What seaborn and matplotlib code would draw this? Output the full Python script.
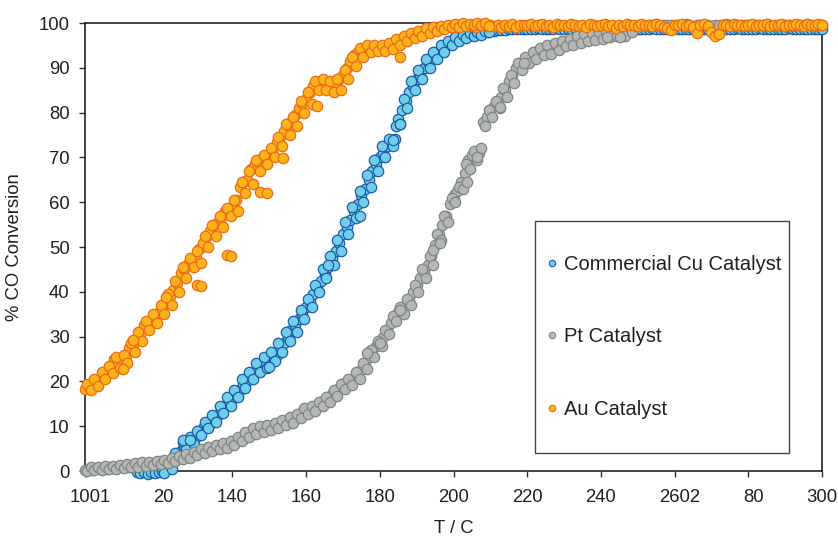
import numpy as np
import pandas as pd
import matplotlib
matplotlib.use("Agg")
import matplotlib.pyplot as plt
from matplotlib.lines import Line2D
from matplotlib.patches import Rectangle
import matplotlib.transforms as mtransforms
import seaborn as sns

# ---------------- data ----------------
series_names = ["Commercial Cu Catalyst", "Pt Catalyst", "Au Catalyst"]

# Commercial Cu catalyst, main trace, T = 114 ... 300 C (1 C steps)
cu_t_start = 114
cu_conv = [
    -0.3, -0.5, -0.2, -0.6, -0.3, -0.5,
    -0.2, 0.0, 0.5, 1.0, 2.0, 3.5, 4.5, 5.5, 6.5, 6.8,
    7.5, 8.5, 9.5, 10.0, 10.5, 11.5, 12.5, 13.5, 14.5, 15.5,
    16.0, 17.0, 18.0, 19.5, 20.0, 21.0, 22.0, 23.0, 23.5, 24.0,
    25.0, 25.5, 26.0, 27.5, 28.5, 30.0, 31.5, 32.5, 34.0, 35.0,
    36.5, 38.0, 39.5, 41.0, 42.5, 44.0, 45.5, 47.5, 49.0, 51.0,
    53.0, 54.5, 56.0, 58.0, 59.5, 61.5, 63.0, 65.0, 67.0, 68.5,
    70.0, 71.0, 72.5, 73.5, 74.0, 78.5, 80.5, 82.5, 84.5, 86.0,
    87.5, 88.5, 90.0, 91.2, 92.2, 93.0, 93.8, 94.5, 95.0, 95.5,
    96.0, 96.3, 96.6, 96.9, 97.2, 97.4, 97.6, 97.8, 98.0, 98.1,
    98.2, 98.3, 98.4, 98.5, 98.5, 98.6, 98.6, 98.7, 98.7, 98.7,
    98.7, 98.6, 98.7, 98.8, 98.7, 98.6, 98.7, 98.7, 98.8, 98.7,
    98.6, 98.7, 98.7, 98.8, 98.7, 98.6, 98.7, 98.7, 98.8, 98.7,
    98.7, 98.6, 98.7, 98.8, 98.7, 98.7, 98.6, 98.7, 98.7, 98.8,
    98.7, 98.6, 98.7, 98.7, 98.8, 98.7, 98.7, 98.6, 98.7, 98.7,
    98.8, 98.7, 98.6, 98.7, 98.7, 98.7, 98.8, 98.7, 98.6, 98.7,
    98.7, 98.8, 98.7, 98.7, 98.6, 98.7, 98.7, 98.8, 98.7, 98.7,
    98.6, 98.7, 98.7, 98.8, 98.7, 98.7, 98.6, 98.7, 98.7, 98.7,
    98.7, 98.8, 98.7, 98.7, 98.6, 98.7, 98.7, 98.7, 98.7, 98.7,
    98.7,
]
# Cu, other edge of the band, T = 120.5 ... 209.5 C
cu_b_t_start = 120.5
cu_conv_b = [
    0.8, -0.5, 2.0, 0.5, 4.0, 3.0, 6.5, 5.0, 7.5, 6.0,
    9.0, 8.0, 11.0, 9.5, 12.5, 11.0, 14.5, 13.0, 16.5, 14.5,
    18.0, 16.5, 20.5, 18.5, 22.0, 20.5, 24.0, 22.0, 25.5, 23.0,
    26.5, 24.5, 28.5, 26.5, 31.0, 29.0, 33.5, 31.0, 36.0, 34.0,
    38.5, 36.5, 41.5, 40.0, 45.0, 43.0, 48.0, 46.0, 51.5, 49.0,
    55.5, 53.0, 59.0, 56.5, 62.5, 60.0, 66.0, 63.5, 69.5, 67.0,
    72.5, 70.0, 74.0, 72.5, 77.0, 77.5, 83.0, 81.0, 87.0, 85.0,
    89.5, 87.5, 92.0, 90.0, 93.5, 92.0, 95.0, 93.5, 96.0, 95.0,
    96.8, 96.0, 97.3, 96.6, 97.7, 97.0, 98.0, 97.4, 98.3, 97.9,
]
cu_extra_t = [126.7, 128.5, 150.0, 166.0, 174.5, 183.7, 185.5]
cu_extra_c = [6.9, 6.9, 23.3, 46.0, 57.0, 73.9, 77.5]

# Pt catalyst, main trace, T = 100 ... 300 C
pt_t_start = 100
pt_conv = [
    0.2, 0.5, 0.3, 0.6, 0.4, 0.7, 0.5, 0.8, 0.6, 0.9,
    0.8, 1.1, 1.0, 1.3, 1.2, 1.4, 1.3, 1.6, 1.5, 1.8,
    1.7, 2.0, 2.2, 2.1, 2.5, 2.8, 3.0, 3.2, 3.5, 3.8,
    4.0, 4.2, 4.5, 4.6, 4.9, 5.2, 5.4, 5.7, 5.6, 6.0,
    6.4, 6.8, 7.3, 7.8, 8.5, 8.8, 9.0, 9.2, 9.0, 9.5,
    9.8, 10.0, 10.3, 10.5, 10.8, 11.2, 11.5, 12.0, 12.5, 13.2,
    13.5, 13.8, 14.2, 14.8, 15.2, 15.8, 16.5, 17.2, 17.8, 18.5,
    19.0, 19.5, 20.0, 20.8, 21.5, 22.5, 24.0, 25.5, 27.0, 28.0,
    29.0, 30.0, 31.5, 33.0, 34.5, 35.5, 36.0, 37.0, 38.5, 40.0,
    41.5, 43.0, 44.5, 46.0, 48.0, 50.5, 53.0, 55.0, 57.0, 59.5,
    61.5, 62.5, 64.5, 66.5, 69.5, 70.5, 71.0, 71.0, 78.0, 79.0,
    80.5, 81.5, 82.0, 83.5, 85.0, 87.0, 88.5, 90.0, 91.0, 91.5,
    92.0, 92.5, 93.0, 93.3, 93.6, 93.8, 94.0, 94.5, 95.0, 95.3,
    95.5, 95.8, 96.0, 96.3, 96.5, 96.7, 96.8, 97.0, 97.0, 97.2,
    97.3, 97.5, 97.8, 97.5, 97.8, 98.0, 98.2, 98.5, 98.8, 99.0,
    99.3, 99.5, 99.4, 99.6, 99.5, 99.7, 99.4, 99.5, 99.6, 99.5,
    99.4, 99.6, 99.5, 99.7, 99.5, 99.4, 99.6, 99.5, 99.5, 99.6,
    99.4, 99.5, 99.6, 99.5, 99.7, 99.5, 99.4, 99.6, 99.5, 99.5,
    99.6, 99.4, 99.5, 99.6, 99.5, 99.7, 99.5, 99.4, 99.6, 99.5,
    99.5, 99.6, 99.4, 99.5, 99.6, 99.5, 99.7, 99.5, 99.4, 99.6,
    99.5,
]
# Pt, other edge of the band, T = 100.5 ... 249.5 C
pt_b_t_start = 100.5
pt_conv_b = [
    0.0, 1.0, 0.2, 0.9, 0.3, 1.1, 0.4, 1.2, 0.5, 1.3,
    0.6, 1.5, 0.8, 1.7, 1.0, 1.9, 1.1, 2.0, 1.3, 2.3,
    1.5, 2.5, 1.8, 2.9, 2.2, 3.4, 2.6, 3.9, 3.0, 4.3,
    3.6, 4.8, 4.0, 5.3, 4.4, 5.9, 4.9, 6.3, 5.2, 6.8,
    5.9, 7.6, 6.8, 8.8, 7.6, 9.6, 8.2, 10.0, 8.6, 10.3,
    9.2, 10.8, 9.7, 11.3, 10.2, 12.0, 10.8, 12.8, 11.8, 14.0,
    12.8, 14.6, 13.5, 15.5, 14.4, 16.6, 15.5, 18.0, 16.8, 19.5,
    18.3, 20.5, 19.2, 22.0, 20.5, 24.0, 22.8, 27.0, 25.5, 29.0,
    28.0, 31.5, 30.5, 34.5, 33.5, 36.5, 35.0, 38.5, 37.0, 41.5,
    40.0, 45.0, 43.0, 48.0, 46.0, 53.0, 51.5, 57.0, 55.5, 61.0,
    60.0, 63.5, 63.0, 68.5, 67.5, 71.5, 69.5, 72.0, 77.0, 80.5,
    79.0, 82.5, 81.0, 85.5, 83.5, 88.5, 86.5, 91.0, 89.5, 92.5,
    91.0, 93.5, 92.0, 94.5, 92.8, 95.0, 93.0, 95.5, 94.0, 96.0,
    94.8, 96.5, 95.2, 97.0, 95.6, 97.5, 96.0, 97.8, 96.3, 98.0,
    96.5, 98.3, 96.8, 98.5, 97.0, 98.8, 97.2, 99.0, 98.0, 99.3,
]
pt_extra_t = [176.4, 180.0, 185.5, 194.5, 196.3, 203.6, 206.3, 212.6, 219.0, 241.6, 245.2]
pt_extra_c = [26.3, 28.6, 35.9, 49.3, 51.0, 64.6, 70.2, 81.3, 91.0, 96.9, 96.9]

# Au catalyst, main trace, T = 100 ... 300 C
au_t_start = 100
au_conv = [
    18.3, 18.8, 19.5, 19.8, 20.6, 21.5, 22.3, 22.8, 25.0, 24.0,
    24.5, 25.6, 27.4, 28.2, 29.5, 30.5, 32.5, 33.3, 33.8, 34.5,
    35.5, 36.2, 37.8, 39.0, 40.5, 42.0, 44.2, 45.0, 46.3, 46.8,
    47.5, 49.5, 51.0, 52.5, 53.5, 54.8, 55.5, 56.5, 58.0, 58.3,
    58.8, 60.5, 63.5, 64.5, 65.0, 67.5, 68.5, 69.0, 69.8, 70.2,
    70.8, 72.0, 73.5, 74.5, 76.0, 77.2, 78.0, 79.5, 81.0, 82.2,
    83.0, 84.5, 86.0, 86.8, 87.0, 86.5, 86.0, 85.5, 86.3, 87.5,
    88.5, 90.0, 91.5, 92.8, 93.5, 94.0, 94.2, 94.5, 94.6, 94.5,
    94.3, 94.5, 94.8, 95.0, 95.8, 96.3, 96.5, 96.8, 97.0, 97.3,
    97.6, 97.9, 98.1, 98.3, 98.5, 98.6, 98.7, 98.9, 99.0, 99.0,
    99.1, 99.2, 99.4, 99.5, 99.3, 99.6, 99.2, 99.5, 99.7, 99.4,
    99.6, 99.3, 99.5, 99.0, 99.6, 99.4, 99.7, 99.2, 99.5, 99.6,
    99.5, 99.7, 99.3, 99.6, 99.8, 99.4, 99.6, 99.2, 99.7, 99.5,
    99.6, 99.3, 99.7, 99.5, 99.4, 99.6, 99.0, 99.7, 99.5, 99.3,
    99.6, 99.8, 99.4, 99.5, 98.9, 99.6, 99.3, 99.7, 99.5, 99.6,
    99.4, 99.7, 99.5, 99.6, 99.3, 99.7, 99.5, 99.2, 98.8, 98.4,
    99.6, 99.5, 99.7, 99.4, 99.6, 99.0, 97.8, 99.5, 99.7, 99.3,
    98.0, 97.0, 97.6, 99.5, 99.6, 99.4, 99.7, 99.5, 99.6, 99.3,
    99.5, 99.7, 99.4, 99.6, 99.5, 99.7, 99.3, 99.6, 99.5, 99.7,
    99.4, 99.6, 99.5, 99.7, 99.6, 99.4, 99.7, 99.5, 99.6, 99.7,
    99.6,
]
# Au, other edge of the band, T = 100.5 ... 209.5 C
au_b_t_start = 100.5
au_conv_b = [
    19.5, 18.0, 20.5, 19.0, 22.0, 20.5, 23.5, 21.8, 25.5, 23.0,
    26.0, 24.0, 28.5, 26.5, 31.0, 29.0, 33.5, 31.5, 35.0, 33.0,
    37.0, 35.0, 39.5, 37.0, 42.5, 40.0, 45.5, 43.0, 47.5, 45.5,
    49.0, 46.5, 52.5, 50.0, 55.0, 52.5, 57.0, 54.5, 58.8, 57.0,
    60.5, 58.0, 64.5, 62.0, 67.0, 64.0, 69.5, 67.0, 70.5, 68.5,
    72.0, 70.0, 74.5, 72.5, 77.5, 75.0, 79.0, 77.0, 82.5, 80.0,
    84.5, 82.0, 87.0, 85.0, 87.5, 85.0, 87.0, 84.5, 87.5, 85.0,
    89.5, 87.5, 92.5, 90.5, 94.5, 92.5, 95.0, 93.5, 95.0, 93.8,
    95.2, 93.8, 95.5, 94.3, 96.5, 95.0, 97.2, 96.0, 97.8, 96.6,
    98.3, 97.2, 98.8, 97.8, 99.2, 98.2, 99.4, 98.6, 99.6, 99.0,
    99.8, 99.2, 99.9, 99.3, 99.8, 99.5, 100.0, 99.6, 99.9, 99.4,
]
au_extra_t = [110.4, 113.0, 122.0, 130.3, 131.5, 138.4, 139.5, 147.5, 149.5, 153.8, 162.9, 185.5]
au_extra_c = [22.7, 29.2, 38.9, 41.5, 41.2, 48.2, 48.0, 62.3, 62.0, 69.9, 81.5, 92.5]

x_ticks = [100, 120, 140, 160, 180, 200, 220, 240, 260, 280, 300]
x_tick_labels = ["1001", "20", "140", "160", "180", "200", "220", "240", "2602", "80", "300"]
y_ticks = [0, 10, 20, 30, 40, 50, 60, 70, 80, 90, 100]

face_colors = ["#6fcfe9", "#b5b7b5", "#f9b41c"]
edge_colors = ["#1f5caa", "#7f8783", "#ee6b13"]

# ---------------- build table ----------------
def make_df(name, parts):
    t_all, c_all = [], []
    for t0, conv in parts[:-1]:
        t_all += list(np.arange(len(conv), dtype=float) + t0)
        c_all += list(conv)
    et, ec = parts[-1]
    t_all += list(et)
    c_all += list(ec)
    return pd.DataFrame({"T": t_all, "conv": c_all, "series": name})

df = pd.concat([
    make_df(series_names[0], [(cu_t_start, cu_conv), (cu_b_t_start, cu_conv_b),
                              (cu_extra_t, cu_extra_c)]),
    make_df(series_names[1], [(pt_t_start, pt_conv), (pt_b_t_start, pt_conv_b),
                              (pt_extra_t, pt_extra_c)]),
    make_df(series_names[2], [(au_t_start, au_conv), (au_b_t_start, au_conv_b),
                              (au_extra_t, au_extra_c)]),
], ignore_index=True)

# ---------------- figure ----------------
sns.set_theme(style="white")
plt.rcParams["font.family"] = ["Liberation Sans", "DejaVu Sans"]
text_color = "#231f20"

W, H = 838, 538
fig = plt.figure(figsize=(W / 100, H / 100), dpi=100)
ax = fig.add_axes([85 / W, 1 - 471 / H, (822 - 85) / W, (471 - 23) / H])

for name, fc, ec in zip(series_names, face_colors, edge_colors):
    sub = df[df["series"] == name]
    sns.scatterplot(data=sub, x="T", y="conv", ax=ax, s=56, color=fc,
                    edgecolor=ec, linewidth=0.9, legend=False, clip_on=False,
                    zorder=3)

ax.set_xlim(100, 300)
ax.set_ylim(0, 100)
ax.set_xticks(x_ticks)
ax.set_xticklabels(x_tick_labels)
ax.set_yticks(y_ticks)

ax.tick_params(axis="both", which="major", direction="out", length=4,
               width=1.0, color="#333333", labelsize=13.3, labelcolor=text_color)
ax.tick_params(axis="x", pad=9, bottom=True)
ax.tick_params(axis="y", pad=7, left=True)

# the shifted (overlapping) labels of the reference
shift = mtransforms.ScaledTranslation(5 / 100, 0, fig.dpi_scale_trans)
for lbl in ax.get_xticklabels():
    if lbl.get_text() in ("1001", "20", "2602", "80"):
        lbl.set_transform(lbl.get_transform() + shift)

for sp in ax.spines.values():
    sp.set_color("#111111")
    sp.set_linewidth(1.1)
    sp.set_zorder(2)

ax.set_xlabel("T / C", fontsize=13.3, color=text_color, labelpad=10)
ax.set_ylabel("% CO Conversion", fontsize=13.3, color=text_color, labelpad=11)

# legend frame and entries
fig.patches.append(Rectangle((535 / W, 1 - 453 / H), (789 - 535) / W, (453 - 221) / H,
                             transform=fig.transFigure, fill=False,
                             edgecolor="#444444", linewidth=1.0))
handles = [Line2D([0], [0], marker="o", linestyle="none", markersize=4.6,
                  markerfacecolor=fc, markeredgecolor=ec, markeredgewidth=0.8)
           for fc, ec in zip(face_colors, edge_colors)]
leg = ax.legend(handles, series_names, loc="center left",
                bbox_to_anchor=(546 / W, 1 - 337 / H), bbox_transform=fig.transFigure,
                frameon=False, fontsize=14.5, handlelength=0.6, handletextpad=0.3,
                labelspacing=2.65, borderpad=0, borderaxespad=0)
for t in leg.get_texts():
    t.set_color(text_color)

fig.savefig("out.png", dpi=100, facecolor="white")
